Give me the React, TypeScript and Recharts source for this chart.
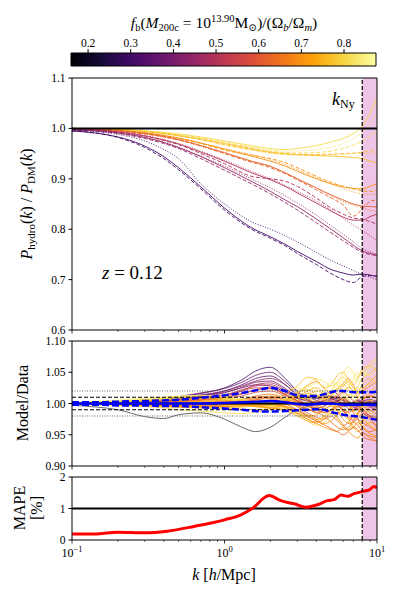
import React from "react";
import { ComposedChart, LineChart, Line, XAxis, YAxis, ReferenceLine, ReferenceArea } from "recharts";

const FONT = "'Liberation Serif', 'DejaVu Serif', serif";
const PINK = "#efc5e7";

// colour scale of the colorbar
const FB_MIN = 0.16;
const FB_MAX = 0.875;
const CB_TICKS = [0.2, 0.3, 0.4, 0.5, 0.6, 0.7, 0.8];
const INFERNO = ["#000004", "#160b39", "#420a68", "#6a176e", "#932667", "#bc3754", "#dd513a", "#f37819", "#fca50a", "#f6d746", "#fcffa4"];

function hex(c: string) {
  return [1, 3, 5].map((i) => parseInt(c.slice(i, i + 2), 16));
}
function cmap(fb: number): string {
  const t = Math.min(1, Math.max(0, (fb - FB_MIN) / (FB_MAX - FB_MIN))) * 10;
  const i = Math.min(9, Math.floor(t));
  const a = hex(INFERNO[i]);
  const b = hex(INFERNO[i + 1]);
  const f = t - i;
  const c = a.map((v, j) => Math.round(v + (b[j] - v) * f));
  return `rgb(${c[0]},${c[1]},${c[2]})`;
}

// x axis ticks (log)
const MAJOR = [0.1, 1, 10];
const LOG_TICKS = [0.1, 0.2, 0.3, 0.4, 0.5, 0.6, 0.7, 0.8, 0.9, 1, 2, 3, 4, 5, 6, 7, 8, 9, 10];
const K_NY = 8;

// ---- top panel: P_hydro / P_DM ----
const K_MAIN = [0.1, 0.15, 0.2, 0.3, 0.4, 0.5, 0.7, 1, 1.5, 2, 2.5, 3, 4, 5, 6, 7, 8, 9, 10];

const A_SOLID = [1.0, 0.999, 0.998, 0.995, 0.992, 0.989, 0.983, 0.975, 0.966, 0.96, 0.958, 0.96, 0.966, 0.973, 0.98, 0.99, 1.005, 1.03, 1.062];
const A_DOT = [1.0, 0.999, 0.998, 0.995, 0.992, 0.988, 0.982, 0.974, 0.964, 0.958, 0.955, 0.955, 0.958, 0.963, 0.97, 0.98, 0.992, 1.01, 1.03];
const A_DASH = [1.0, 0.999, 0.998, 0.995, 0.991, 0.988, 0.981, 0.972, 0.962, 0.955, 0.952, 0.951, 0.952, 0.955, 0.96, 0.967, 0.975, 0.985, 0.995];

const B_SOLID = [1.0, 0.999, 0.998, 0.994, 0.99, 0.986, 0.979, 0.97, 0.96, 0.953, 0.95, 0.948, 0.946, 0.945, 0.944, 0.942, 0.94, 0.935, 0.932];
const B_DASH = [1.0, 0.999, 0.997, 0.994, 0.99, 0.985, 0.978, 0.968, 0.958, 0.952, 0.949, 0.948, 0.948, 0.949, 0.95, 0.951, 0.953, 0.955, 0.958];
const B_DOT = [1.0, 0.999, 0.997, 0.993, 0.989, 0.985, 0.977, 0.967, 0.957, 0.951, 0.948, 0.947, 0.947, 0.948, 0.949, 0.95, 0.95, 0.951, 0.952];

const C_SOLID = [1.0, 0.998, 0.996, 0.991, 0.986, 0.981, 0.971, 0.959, 0.945, 0.935, 0.925, 0.915, 0.9, 0.89, 0.884, 0.881, 0.88, 0.885, 0.89];
const C_DASH = [1.0, 0.998, 0.996, 0.991, 0.986, 0.98, 0.97, 0.957, 0.947, 0.94, 0.932, 0.922, 0.905, 0.893, 0.885, 0.88, 0.876, 0.875, 0.877];
const C_DOT = [1.0, 0.998, 0.996, 0.991, 0.986, 0.981, 0.971, 0.96, 0.948, 0.938, 0.928, 0.918, 0.902, 0.89, 0.88, 0.874, 0.87, 0.869, 0.87];

const D_SOLID = [1.0, 0.998, 0.995, 0.99, 0.984, 0.978, 0.966, 0.952, 0.935, 0.925, 0.912, 0.9, 0.882, 0.868, 0.858, 0.85, 0.846, 0.845, 0.844];
const D_DASH = [1.0, 0.998, 0.995, 0.989, 0.983, 0.977, 0.965, 0.95, 0.933, 0.922, 0.91, 0.898, 0.878, 0.862, 0.848, 0.826, 0.84, 0.855, 0.858];
const D_DOT = [1.0, 0.998, 0.995, 0.989, 0.983, 0.977, 0.965, 0.951, 0.935, 0.924, 0.912, 0.9, 0.882, 0.866, 0.855, 0.848, 0.842, 0.838, 0.835];

const E_SOLID = [0.998, 0.996, 0.993, 0.985, 0.977, 0.969, 0.953, 0.935, 0.912, 0.898, 0.885, 0.872, 0.852, 0.836, 0.824, 0.818, 0.818, 0.825, 0.83];
const E_DASH = [0.998, 0.996, 0.993, 0.985, 0.976, 0.968, 0.95, 0.93, 0.905, 0.9, 0.895, 0.885, 0.862, 0.842, 0.83, 0.822, 0.82, 0.815, 0.81];
const E_DOT = [0.998, 0.996, 0.993, 0.986, 0.978, 0.97, 0.955, 0.937, 0.915, 0.9, 0.887, 0.875, 0.856, 0.838, 0.822, 0.808, 0.797, 0.787, 0.777];

const F_SOLID = [0.997, 0.995, 0.991, 0.982, 0.972, 0.962, 0.944, 0.922, 0.895, 0.875, 0.858, 0.845, 0.82, 0.8, 0.783, 0.768, 0.757, 0.752, 0.748];
const F_DASH = [0.997, 0.994, 0.99, 0.98, 0.97, 0.96, 0.94, 0.917, 0.89, 0.87, 0.853, 0.838, 0.813, 0.793, 0.777, 0.764, 0.754, 0.75, 0.748];
const F_DOT = [0.997, 0.995, 0.991, 0.982, 0.973, 0.963, 0.945, 0.925, 0.9, 0.882, 0.866, 0.852, 0.828, 0.807, 0.79, 0.775, 0.762, 0.755, 0.75];

const G_SOLID = [0.995, 0.99, 0.983, 0.965, 0.944, 0.922, 0.884, 0.842, 0.803, 0.785, 0.77, 0.756, 0.736, 0.72, 0.713, 0.709, 0.711, 0.709, 0.706];
const G_DASH = [0.995, 0.99, 0.982, 0.962, 0.94, 0.918, 0.88, 0.838, 0.8, 0.782, 0.767, 0.752, 0.73, 0.712, 0.7, 0.694, 0.706, 0.708, 0.707];
const G_DOT = [0.996, 0.993, 0.988, 0.975, 0.958, 0.94, 0.89, 0.85, 0.815, 0.8, 0.787, 0.775, 0.754, 0.738, 0.727, 0.718, 0.71, 0.705, 0.7];

const FB_A = 0.81, FB_B = 0.77, FB_C = 0.7, FB_D = 0.62, FB_E = 0.5, FB_F = 0.45, FB_G = 0.3;

const MAIN_SERIES = [
  { key: "A_solid", fb: FB_A, dash: "", values: A_SOLID },
  { key: "A_dot", fb: FB_A, dash: "1 1.6", values: A_DOT },
  { key: "A_dash", fb: FB_A, dash: "4 2", values: A_DASH },
  { key: "B_solid", fb: FB_B, dash: "", values: B_SOLID },
  { key: "B_dash", fb: FB_B, dash: "4 2", values: B_DASH },
  { key: "B_dot", fb: FB_B, dash: "1 1.6", values: B_DOT },
  { key: "C_solid", fb: FB_C, dash: "", values: C_SOLID },
  { key: "C_dash", fb: FB_C, dash: "4 2", values: C_DASH },
  { key: "C_dot", fb: FB_C, dash: "1 1.6", values: C_DOT },
  { key: "D_solid", fb: FB_D, dash: "", values: D_SOLID },
  { key: "D_dash", fb: FB_D, dash: "4 2", values: D_DASH },
  { key: "D_dot", fb: FB_D, dash: "1 1.6", values: D_DOT },
  { key: "E_solid", fb: FB_E, dash: "", values: E_SOLID },
  { key: "E_dash", fb: FB_E, dash: "4 2", values: E_DASH },
  { key: "E_dot", fb: FB_E, dash: "1 1.6", values: E_DOT },
  { key: "F_solid", fb: FB_F, dash: "", values: F_SOLID },
  { key: "F_dash", fb: FB_F, dash: "4 2", values: F_DASH },
  { key: "F_dot", fb: FB_F, dash: "1 1.6", values: F_DOT },
  { key: "G_solid", fb: FB_G, dash: "", values: G_SOLID },
  { key: "G_dash", fb: FB_G, dash: "4 2", values: G_DASH },
  { key: "G_dot", fb: FB_G, dash: "1 1.6", values: G_DOT },
];

// ---- middle panel: Model / Data ----
const K_RATIO = [0.1, 0.15, 0.2, 0.3, 0.4, 0.5, 0.7, 1, 1.3, 1.6, 2, 2.5, 3, 3.5, 4, 4.5, 5, 5.5, 6, 6.5, 7, 7.5, 8, 9, 10];
const RATIO_FB = [0.17, 0.3, 0.38, 0.45, 0.48, 0.55, 0.62, 0.68, 0.72, 0.76, 0.8, 0.84, 0.82, 0.66, 0.78, 0.7,
  0.42, 0.35, 0.5, 0.58, 0.74, 0.86, 0.81, 0.69, 0.64, 0.78, 0.84, 0.72, 0.55, 0.8, 0.66, 0.76,
  0.75, 0.82, 0.68, 0.6, 0.4, 0.79, 0.73, 0.85, 0.63, 0.7];
const RATIO_LINES = [
  [0.997, 0.994, 0.99, 0.979, 0.976, 0.982, 0.985, 0.975, 0.962, 0.955, 0.962, 0.978, 0.99, 0.995, 0.998, 1.0, 1.001, 1.0, 0.999, 1.0, 1.001, 1.0, 0.999, 1.0, 1.0],
  [1.0, 1.0, 1.001, 1.003, 1.006, 1.01, 1.016, 1.025, 1.038, 1.052, 1.058, 1.04, 1.02, 1.01, 1.008, 1.01, 1.012, 1.006, 1.0, 0.998, 1.002, 1.005, 1.0, 0.998, 1.0],
  [1.0, 1.001, 1.002, 1.004, 1.007, 1.011, 1.017, 1.024, 1.034, 1.045, 1.05, 1.035, 1.018, 1.01, 1.005, 1.0, 0.998, 1.003, 1.008, 1.004, 0.998, 0.996, 1.0, 1.003, 1.0],
  [1.0, 1.001, 1.002, 1.005, 1.008, 1.01, 1.014, 1.02, 1.028, 1.036, 1.04, 1.03, 1.015, 1.012, 1.01, 1.014, 1.01, 1.0, 0.995, 0.998, 1.003, 1.006, 1.004, 0.998, 0.995],
  [0.999, 0.999, 1.0, 1.0, 1.002, 1.003, 1.006, 1.012, 1.02, 1.03, 1.033, 1.022, 1.008, 0.998, 0.993, 0.996, 1.002, 1.005, 0.999, 0.992, 0.99, 0.995, 0.998, 0.994, 0.99],
  [1.0, 1.0, 1.001, 1.002, 1.003, 1.004, 1.006, 1.01, 1.015, 1.022, 1.026, 1.015, 1.005, 1.0, 1.004, 1.012, 1.02, 1.015, 1.006, 1.0, 0.995, 0.99, 0.985, 0.978, 0.972],
  [1.0, 1.0, 0.999, 0.998, 0.996, 0.995, 0.994, 0.996, 1.0, 1.006, 1.01, 1.006, 0.995, 0.985, 0.978, 0.975, 0.98, 0.972, 0.965, 0.97, 0.98, 0.975, 0.962, 0.955, 0.96],
  [1.0, 1.001, 1.001, 1.003, 1.004, 1.006, 1.008, 1.006, 1.003, 1.0, 0.998, 1.005, 1.015, 1.028, 1.035, 1.025, 1.015, 1.022, 1.032, 1.04, 1.03, 1.018, 1.02, 1.028, 1.035],
  [1.0, 0.999, 0.998, 0.996, 0.995, 0.994, 0.993, 0.992, 0.991, 0.99, 0.992, 0.995, 0.99, 0.982, 0.975, 0.968, 0.972, 0.982, 0.988, 0.975, 0.962, 0.955, 0.96, 0.97, 0.965],
  [1.0, 1.001, 1.002, 1.004, 1.005, 1.007, 1.01, 1.008, 1.004, 1.002, 1.006, 1.015, 1.028, 1.042, 1.038, 1.025, 1.03, 1.045, 1.05, 1.038, 1.03, 1.04, 1.055, 1.06, 1.05],
  [0.999, 0.998, 0.997, 0.995, 0.993, 0.99, 0.988, 0.985, 0.984, 0.986, 0.99, 0.993, 0.985, 0.975, 0.97, 0.978, 0.985, 0.975, 0.962, 0.958, 0.968, 0.975, 0.965, 0.952, 0.945],
  [1.0, 1.002, 1.004, 1.007, 1.009, 1.011, 1.012, 1.01, 1.008, 1.007, 1.01, 1.02, 1.025, 1.018, 1.012, 1.02, 1.035, 1.03, 1.02, 1.025, 1.04, 1.05, 1.045, 1.06, 1.07],
  [1.0, 0.999, 0.999, 0.998, 0.997, 0.996, 0.995, 0.996, 0.998, 1.0, 1.003, 1.0, 0.996, 1.004, 1.012, 1.008, 0.998, 0.99, 0.995, 1.005, 1.012, 1.0, 0.99, 0.985, 0.99],
  [1.0, 1.0, 1.001, 1.001, 1.002, 1.003, 1.004, 1.003, 1.006, 1.012, 1.015, 1.008, 1.0, 0.992, 0.985, 0.99, 0.998, 1.005, 1.01, 1.0, 0.985, 0.975, 0.97, 0.962, 0.955],
  [1.0, 1.0, 1.0, 0.999, 0.998, 0.998, 0.999, 1.001, 1.003, 1.005, 1.004, 0.998, 1.005, 1.012, 1.02, 1.015, 1.005, 0.995, 1.0, 1.012, 1.02, 1.025, 1.015, 1.01, 1.02],
  [1.0, 0.999, 0.998, 0.997, 0.996, 0.996, 0.997, 0.999, 0.997, 0.995, 0.993, 0.988, 0.98, 0.972, 0.968, 0.962, 0.958, 0.955, 0.962, 0.955, 0.948, 0.945, 0.952, 0.945, 0.94],
  [1.0, 1.0, 1.001, 1.003, 1.005, 1.008, 1.012, 1.018, 1.025, 1.03, 1.028, 1.018, 1.008, 1.004, 1.0, 0.998, 1.0, 1.004, 1.006, 1.002, 0.997, 0.995, 0.998, 1.002, 1.004],
  [1.001, 1.001, 1.002, 1.004, 1.006, 1.009, 1.013, 1.02, 1.03, 1.04, 1.044, 1.03, 1.014, 1.006, 1.002, 1.003, 1.006, 1.008, 1.004, 0.998, 0.996, 1.0, 1.004, 1.006, 1.003],
  [1.0, 1.0, 1.0, 1.001, 1.002, 1.004, 1.007, 1.013, 1.022, 1.028, 1.03, 1.02, 1.01, 1.005, 1.002, 1.006, 1.012, 1.01, 1.004, 0.998, 0.994, 0.992, 0.996, 1.0, 0.998],
  [1.0, 1.0, 1.001, 1.001, 1.002, 1.003, 1.005, 1.008, 1.012, 1.018, 1.02, 1.012, 1.002, 0.996, 0.992, 0.995, 1.004, 1.012, 1.018, 1.012, 1.004, 1.0, 1.006, 1.012, 1.008],
  [1.001, 1.002, 1.003, 1.005, 1.006, 1.007, 1.008, 1.006, 1.002, 0.998, 0.996, 1.0, 1.01, 1.02, 1.025, 1.018, 1.01, 1.015, 1.028, 1.035, 1.025, 1.015, 1.022, 1.035, 1.045],
  [1.002, 1.004, 1.006, 1.008, 1.01, 1.011, 1.012, 1.01, 1.005, 1.0, 0.998, 1.004, 1.012, 1.025, 1.032, 1.028, 1.02, 1.025, 1.04, 1.052, 1.045, 1.035, 1.04, 1.055, 1.062],
  [0.999, 0.998, 0.997, 0.996, 0.995, 0.994, 0.993, 0.993, 0.994, 0.996, 0.997, 0.992, 0.982, 0.972, 0.965, 0.97, 0.98, 0.99, 0.985, 0.972, 0.96, 0.965, 0.975, 0.968, 0.955],
  [1.0, 1.0, 0.999, 0.999, 0.998, 0.997, 0.996, 0.995, 0.996, 0.998, 1.0, 0.996, 0.988, 0.98, 0.982, 0.99, 0.996, 0.988, 0.975, 0.968, 0.972, 0.982, 0.99, 0.98, 0.97],
  [1.0, 0.999, 0.999, 0.998, 0.998, 0.998, 0.998, 1.0, 1.004, 1.008, 1.01, 1.004, 0.996, 0.99, 0.986, 0.98, 0.97, 0.962, 0.958, 0.962, 0.97, 0.965, 0.955, 0.948, 0.945],
  [1.001, 1.003, 1.004, 1.006, 1.008, 1.01, 1.011, 1.009, 1.006, 1.004, 1.004, 1.008, 1.018, 1.022, 1.015, 1.008, 1.012, 1.025, 1.03, 1.022, 1.012, 1.018, 1.03, 1.04, 1.03],
  [1.0, 1.001, 1.002, 1.003, 1.004, 1.005, 1.006, 1.004, 1.001, 0.998, 0.995, 0.998, 1.006, 1.01, 1.002, 0.994, 0.99, 0.998, 1.008, 1.014, 1.008, 0.996, 0.99, 1.0, 1.012],
  [1.0, 1.001, 1.002, 1.004, 1.005, 1.006, 1.006, 1.004, 1.0, 0.996, 0.994, 0.998, 1.004, 0.998, 0.99, 0.985, 0.99, 1.0, 0.995, 0.985, 0.978, 0.985, 0.998, 1.005, 0.995],
  [1.0, 1.0, 1.001, 1.002, 1.004, 1.006, 1.009, 1.014, 1.02, 1.025, 1.024, 1.014, 1.004, 0.998, 0.996, 1.0, 1.004, 0.998, 0.99, 0.986, 0.99, 0.996, 0.99, 0.98, 0.978],
  [1.001, 1.002, 1.004, 1.006, 1.008, 1.009, 1.01, 1.008, 1.004, 1.001, 1.0, 1.006, 1.014, 1.008, 1.0, 1.006, 1.02, 1.035, 1.042, 1.03, 1.02, 1.028, 1.04, 1.048, 1.058],
  [1.0, 1.0, 1.0, 1.0, 1.0, 1.0, 1.0, 1.002, 1.006, 1.01, 1.012, 1.006, 0.998, 0.99, 0.994, 1.004, 1.008, 1.0, 0.99, 0.98, 0.975, 0.985, 0.995, 0.99, 0.982],
  [0.999, 0.999, 0.998, 0.997, 0.996, 0.995, 0.994, 0.994, 0.995, 0.997, 0.998, 0.995, 0.99, 0.994, 1.002, 1.008, 1.0, 0.99, 0.982, 0.988, 0.998, 1.004, 0.996, 0.985, 0.975],
  [1.0, 1.001, 1.002, 1.003, 1.004, 1.005, 1.006, 1.005, 1.002, 0.999, 0.998, 1.002, 1.01, 1.016, 1.012, 1.004, 0.998, 1.006, 1.018, 1.026, 1.02, 1.01, 1.008, 1.018, 1.028],
  [1.001, 1.002, 1.003, 1.005, 1.007, 1.008, 1.009, 1.007, 1.003, 1.0, 0.999, 1.004, 1.016, 1.03, 1.04, 1.035, 1.028, 1.034, 1.048, 1.058, 1.05, 1.042, 1.05, 1.065, 1.072],
  [1.0, 0.999, 0.998, 0.997, 0.996, 0.995, 0.995, 0.996, 0.998, 1.0, 1.0, 0.994, 0.984, 0.975, 0.97, 0.975, 0.984, 0.978, 0.966, 0.958, 0.962, 0.97, 0.962, 0.952, 0.948],
  [1.0, 1.0, 1.0, 1.001, 1.002, 1.004, 1.006, 1.01, 1.016, 1.022, 1.024, 1.015, 1.004, 0.996, 0.99, 0.986, 0.99, 0.995, 0.988, 0.978, 0.972, 0.976, 0.984, 0.975, 0.962],
  [1.0, 1.0, 1.001, 1.002, 1.004, 1.007, 1.011, 1.017, 1.026, 1.034, 1.036, 1.024, 1.01, 1.004, 1.002, 1.004, 1.008, 1.004, 0.998, 0.996, 1.0, 1.004, 1.002, 0.996, 0.994],
  [0.999, 0.999, 0.998, 0.997, 0.996, 0.996, 0.996, 0.997, 0.998, 1.0, 1.002, 1.006, 1.01, 1.004, 0.996, 1.002, 1.012, 1.022, 1.016, 1.006, 1.0, 1.01, 1.024, 1.032, 1.04],
  [1.0, 1.0, 1.001, 1.002, 1.002, 1.003, 1.003, 1.001, 0.998, 0.995, 0.993, 0.99, 0.985, 0.978, 0.974, 0.98, 0.99, 1.0, 1.008, 1.0, 0.99, 0.982, 0.975, 0.965, 0.958],
  [1.001, 1.003, 1.005, 1.008, 1.01, 1.012, 1.013, 1.011, 1.007, 1.003, 1.002, 1.008, 1.02, 1.028, 1.022, 1.014, 1.018, 1.03, 1.036, 1.03, 1.035, 1.045, 1.05, 1.045, 1.055],
  [1.0, 1.0, 0.999, 0.998, 0.997, 0.996, 0.996, 0.998, 1.002, 1.006, 1.008, 1.0, 0.99, 0.98, 0.972, 0.966, 0.96, 0.955, 0.95, 0.955, 0.962, 0.958, 0.948, 0.942, 0.94],
  [1.0, 1.0, 1.0, 1.001, 1.002, 1.002, 1.002, 1.0, 0.998, 0.997, 0.998, 1.004, 1.012, 1.008, 1.0, 0.992, 0.988, 0.994, 1.002, 0.996, 0.988, 0.992, 1.004, 1.012, 1.008],
];
const RATIO_MEDIAN = [1.0, 1.0, 1.0, 1.0, 1.0, 1.0, 1.0, 1.001, 1.002, 1.003, 1.004, 1.002, 0.999, 0.998, 0.999, 1.0, 1.0, 0.999, 0.998, 0.998, 0.998, 0.998, 0.998, 0.998, 0.998];
const RATIO_HIGH = [1.002, 1.002, 1.003, 1.004, 1.005, 1.006, 1.009, 1.013, 1.017, 1.021, 1.025, 1.02, 1.013, 1.012, 1.012, 1.015, 1.018, 1.02, 1.02, 1.019, 1.018, 1.018, 1.018, 1.018, 1.019];
const RATIO_LOW = [0.998, 0.998, 0.997, 0.997, 0.996, 0.996, 0.994, 0.992, 0.99, 0.988, 0.987, 0.988, 0.989, 0.99, 0.991, 0.99, 0.986, 0.984, 0.982, 0.981, 0.98, 0.979, 0.978, 0.976, 0.974];

// ---- bottom panel: MAPE [%] ----
const K_MAPE = [0.1, 0.14, 0.2, 0.3, 0.42, 0.63, 1.0, 1.28, 1.52, 1.96, 2.34, 2.59, 2.86, 3.41, 4.07, 4.73, 5.24, 5.8, 6.4, 7.08, 8.0, 8.9, 9.57, 10];
const MAPE = [0.19, 0.19, 0.25, 0.23, 0.28, 0.43, 0.64, 0.8, 1.0, 1.41, 1.25, 1.19, 1.15, 1.04, 1.12, 1.25, 1.28, 1.43, 1.39, 1.47, 1.54, 1.59, 1.7, 1.65];

const mainRows = K_MAIN.map((k, i) => {
  const row: Record<string, number> = { k };
  MAIN_SERIES.forEach((s) => (row[s.key] = s.values[i]));
  return row;
});
const ratioRows = K_RATIO.map((k, i) => {
  const row: Record<string, number> = { k, med: RATIO_MEDIAN[i], hi: RATIO_HIGH[i], lo: RATIO_LOW[i] };
  RATIO_LINES.forEach((l, j) => (row["r" + j] = l[i]));
  return row;
});
const mapeRows = K_MAPE.map((k, i) => ({ k, mape: MAPE[i] }));
const cbRows = CB_TICKS.map((v) => ({ v, y: 0.5 }));

function LogTick(props: any) {
  const { x, y, payload, showLabel } = props;
  const v = payload.value;
  const major = MAJOR.some((m) => Math.abs(m - v) < 1e-9);
  const exp = Math.round(Math.log10(v));
  return (
    <g>
      <line x1={x} x2={x} y1={y} y2={y + (major ? 3.5 : 2)} stroke="#000" strokeWidth={major ? 0.8 : 0.6} />
      {showLabel && major && (
        <text x={x} y={y + 17} textAnchor="middle" fontFamily={FONT} fontSize={12} fill="#000">
          10<tspan dy={-5} fontSize={8.5}>{exp < 0 ? "\u2212" + -exp : String(exp)}</tspan>
        </text>
      )}
    </g>
  );
}

const yTick = { fill: "#000", fontSize: 11.5, fontFamily: FONT };

function xAxis(showLabel: boolean, height: number) {
  return (
    <XAxis
      dataKey="k"
      type="number"
      scale="log"
      domain={[0.1, 10]}
      allowDataOverflow
      ticks={LOG_TICKS}
      interval={0}
      tickSize={0}
      tickMargin={0}
      height={height}
      tick={<LogTick showLabel={showLabel} />}
      stroke="#000"
    />
  );
}

export default function App() {
  return (
    <div style={{ position: "absolute", left: 0, top: 0, width: 399, height: 598, background: "#fff", overflow: "hidden" }}>
      <svg width={0} height={0} style={{ position: "absolute" }}>
        <defs>
          <linearGradient id="inferno" x1="0" y1="0" x2="1" y2="0">
            {INFERNO.map((c, i) => (
              <stop key={i} offset={`${i * 10}%`} stopColor={c} />
            ))}
          </linearGradient>
        </defs>
      </svg>

      {/* colorbar */}
      <div style={{ position: "absolute", left: 0, top: 0 }}>
        <ComposedChart width={399} height={67} data={cbRows} margin={{ top: 33, right: 23, bottom: 1, left: 71 }}>
          <XAxis
            dataKey="v"
            type="number"
            orientation="top"
            domain={[FB_MIN, FB_MAX]}
            ticks={CB_TICKS}
            interval={0}
            height={20}
            tickSize={4}
            tickMargin={2}
            axisLine={false}
            tickLine={{ stroke: "#000" }}
            tickFormatter={(v: number) => v.toFixed(1)}
            tick={yTick}
          />
          <YAxis hide type="number" domain={[0, 1]} />
          <Line dataKey="y" stroke="none" dot={false} isAnimationActive={false} />
          <ReferenceArea x1={FB_MIN} x2={FB_MAX} y1={0} y2={1} fill="url(#inferno)" fillOpacity={1} stroke="#000" strokeWidth={1} ifOverflow="visible" />
        </ComposedChart>
      </div>

      {/* main panel */}
      <div style={{ position: "absolute", left: 0, top: 0 }}>
        <LineChart width={399} height={340} data={mainRows} margin={{ top: 78, right: 22, bottom: 0, left: 0 }}>
          <ReferenceArea x1={K_NY} x2={10} y1={0.6} y2={1.1} fill={PINK} fillOpacity={1} stroke="none" />
          {xAxis(false, 10)}
          <YAxis
            type="number"
            domain={[0.6, 1.1]}
            ticks={[0.6, 0.7, 0.8, 0.9, 1.0, 1.1]}
            allowDataOverflow
            width={72}
            tickSize={3.5}
            tickMargin={3}
            tickFormatter={(v: number) => v.toFixed(1)}
            tick={yTick}
            stroke="#000"
          />
          {MAIN_SERIES.map((s) => (
            <Line
              key={s.key}
              dataKey={s.key}
              type="monotone"
              stroke={cmap(s.fb)}
              strokeWidth={1}
              strokeOpacity={0.9}
              strokeDasharray={s.dash || undefined}
              dot={false}
              isAnimationActive={false}
            />
          ))}
          <ReferenceLine y={1.0} stroke="#000" strokeWidth={2} />
          <ReferenceLine x={K_NY} stroke="#000" strokeWidth={1.2} strokeDasharray="4 2" />
          <ReferenceLine y={1.1} stroke="#000" strokeWidth={1} />
          <ReferenceLine x={10} stroke="#000" strokeWidth={1} />
        </LineChart>
      </div>

      {/* ratio panel */}
      <div style={{ position: "absolute", left: 0, top: 335 }}>
        <LineChart width={399} height={141} data={ratioRows} margin={{ top: 6, right: 22, bottom: 0, left: 0 }}>
          <ReferenceArea x1={K_NY} x2={10} y1={0.9} y2={1.1} fill={PINK} fillOpacity={1} stroke="none" />
          {xAxis(false, 10)}
          <YAxis
            type="number"
            domain={[0.9, 1.1]}
            ticks={[0.9, 0.95, 1.0, 1.05, 1.1]}
            allowDataOverflow
            width={72}
            tickSize={3.5}
            tickMargin={3}
            tickFormatter={(v: number) => v.toFixed(2)}
            tick={yTick}
            stroke="#000"
          />
          {RATIO_LINES.map((_, j) => (
            <Line
              key={j}
              dataKey={"r" + j}
              type="monotone"
              stroke={j === 0 ? "#444" : cmap(RATIO_FB[j])}
              strokeWidth={1}
              strokeOpacity={0.8}
              dot={false}
              isAnimationActive={false}
            />
          ))}
          <ReferenceLine y={1.02} stroke="#666" strokeWidth={1.2} strokeDasharray="1 1.5" />
          <ReferenceLine y={0.98} stroke="#666" strokeWidth={1.2} strokeDasharray="1 1.5" />
          <ReferenceLine y={1.01} stroke="#000" strokeWidth={1.2} strokeDasharray="4 2" />
          <ReferenceLine y={0.99} stroke="#000" strokeWidth={1.2} strokeDasharray="4 2" />
          <ReferenceLine y={1.0} stroke="#000" strokeWidth={2} />
          <Line dataKey="med" type="monotone" stroke="#0000ff" strokeWidth={2.5} dot={false} isAnimationActive={false} />
          <Line dataKey="hi" type="monotone" stroke="#0000ff" strokeWidth={2.5} strokeDasharray="7 3" dot={false} isAnimationActive={false} />
          <Line dataKey="lo" type="monotone" stroke="#0000ff" strokeWidth={2.5} strokeDasharray="7 3" dot={false} isAnimationActive={false} />
          <ReferenceLine x={K_NY} stroke="#000" strokeWidth={1.2} strokeDasharray="4 2" />
          <ReferenceLine y={1.1} stroke="#000" strokeWidth={1} />
          <ReferenceLine x={10} stroke="#000" strokeWidth={1} />
        </LineChart>
      </div>

      {/* MAPE panel */}
      <div style={{ position: "absolute", left: 0, top: 470 }}>
        <LineChart width={399} height={100} data={mapeRows} margin={{ top: 7, right: 22, bottom: 0, left: 0 }}>
          <ReferenceArea x1={K_NY} x2={10} y1={0} y2={2} fill={PINK} fillOpacity={1} stroke="none" />
          {xAxis(true, 30)}
          <YAxis
            type="number"
            domain={[0, 2]}
            ticks={[0, 1, 2]}
            allowDataOverflow
            width={72}
            tickSize={3.5}
            tickMargin={3}
            tick={yTick}
            stroke="#000"
          />
          <ReferenceLine y={1} stroke="#000" strokeWidth={2} />
          <Line dataKey="mape" type="monotone" stroke="#ff0000" strokeWidth={3} dot={false} isAnimationActive={false} />
          <ReferenceLine x={K_NY} stroke="#000" strokeWidth={1.2} strokeDasharray="4 2" />
          <ReferenceLine y={2} stroke="#000" strokeWidth={1} />
          <ReferenceLine x={10} stroke="#000" strokeWidth={1} />
        </LineChart>
      </div>

      {/* text labels */}
      <svg width={399} height={598} style={{ position: "absolute", left: 0, top: 0, pointerEvents: "none" }} fontFamily={FONT} fill="#000">
        <text x={224} y={28} textAnchor="middle" fontSize={15.5}>
          <tspan fontStyle="italic">f</tspan>
          <tspan fontSize={10.5} dy={3}>b</tspan>
          <tspan dy={-3}>(</tspan>
          <tspan fontStyle="italic">M</tspan>
          <tspan fontSize={10.5} dy={3}>200c</tspan>
          <tspan dy={-3}> = 10</tspan>
          <tspan fontSize={10.5} dy={-6}>13.90</tspan>
          <tspan dy={6}>M</tspan>
          <tspan fontSize={10.5} dy={3}>⊙</tspan>
          <tspan dy={-3}>)/(Ω</tspan>
          <tspan fontSize={10.5} dy={3} fontStyle="italic">b</tspan>
          <tspan dy={-3}>/Ω</tspan>
          <tspan fontSize={10.5} dy={3} fontStyle="italic">m</tspan>
          <tspan dy={-3}>)</tspan>
        </text>

        <text transform="translate(32,204) rotate(-90)" textAnchor="middle" fontSize={16}>
          <tspan fontStyle="italic">P</tspan>
          <tspan fontSize={11} dy={3}>hydro</tspan>
          <tspan dy={-3}>(</tspan>
          <tspan fontStyle="italic">k</tspan>
          <tspan>) / </tspan>
          <tspan fontStyle="italic">P</tspan>
          <tspan fontSize={11} dy={3}>DM</tspan>
          <tspan dy={-3}>(</tspan>
          <tspan fontStyle="italic">k</tspan>
          <tspan>)</tspan>
        </text>

        <text transform="translate(28,403) rotate(-90)" textAnchor="middle" fontSize={16}>
          Model/Data
        </text>
        <text transform="translate(25,508) rotate(-90)" textAnchor="middle" fontSize={16}>
          MAPE
        </text>
        <text transform="translate(42,508) rotate(-90)" textAnchor="middle" fontSize={16}>
          [%]
        </text>

        <text x={102} y={279} fontSize={19}>
          <tspan fontStyle="italic">z</tspan> = 0.12
        </text>

        <text x={332} y={105} fontSize={18}>
          <tspan fontStyle="italic">k</tspan>
          <tspan fontSize={12} dy={3}>Ny</tspan>
        </text>

        <text x={224} y={580} textAnchor="middle" fontSize={16}>
          <tspan fontStyle="italic">k</tspan> [<tspan fontStyle="italic">h</tspan>/Mpc]
        </text>
      </svg>
    </div>
  );
}
